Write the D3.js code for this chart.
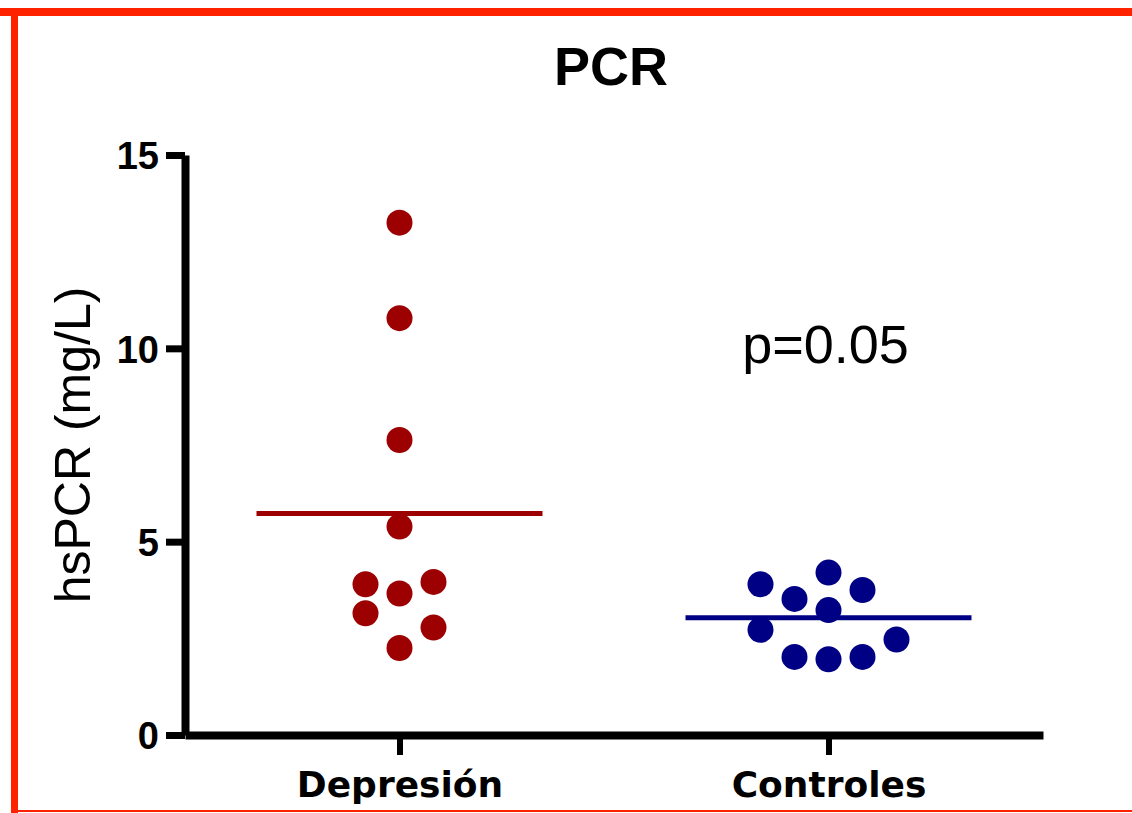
<!DOCTYPE html>
<html>
<head>
<meta charset="utf-8">
<script src="https://cdn.jsdelivr.net/npm/d3@7"></script>
<style>
  body { margin: 0; background: #fff; }
</style>
</head>
<body>
<svg id="chart"></svg>
<script>
var categories = ["Depresión", "Controles"]
var depresionValues = [13.25, 10.78, 7.63, 5.39, 3.90, 3.66, 3.96, 3.15, 2.78, 2.25]
var depresionSlots = [0, 0, 0, 0, -1, 0, 1, -1, 1, 0]
var controlesValues = [3.90, 3.52, 4.20, 3.75, 3.23, 2.72, 2.47, 2.02, 1.96, 2.02]
var controlesSlots = [-2, -1, 0, 1, 0, -2, 2, -1, 0, 1]
var groupMeans = [5.73, 3.03]
var groupColors = ["#9c0000", "#000085"]
var yTicks = [0, 5, 10, 15]
var titleText = "PCR"
var yLabel = "hsPCR (mg/L)"
var pText = "p=0.05"

document.addEventListener("DOMContentLoaded", function() {
    var svgWidth = 1132, svgHeight = 813;
    var svg = d3.select('#chart')
        .attr("width", svgWidth)
        .attr("height", svgHeight);

    // red frame (top, left, thin bottom)
    svg.append("rect").attr("x", 0).attr("y", 8).attr("width", svgWidth).attr("height", 8).attr("fill", "#ff2200");
    svg.append("rect").attr("x", 11).attr("y", 8).attr("width", 7).attr("height", svgHeight).attr("fill", "#ff2200");
    svg.append("rect").attr("x", 11).attr("y", 810).attr("width", svgWidth).attr("height", 2).attr("fill", "#ff2200");

    var y = d3.scaleLinear().domain([0, 15]).range([735, 155]);
    var x = d3.scalePoint().domain(categories).range([185, 1043]).padding(0.5);

    // Y axis
    var yAxis = svg.append("g")
        .attr("transform", "translate(185,0)")
        .call(d3.axisLeft(y).tickValues(yTicks).tickSize(19).tickSizeOuter(0).tickPadding(7));
    yAxis.select(".domain").attr("stroke-width", 8).attr("stroke", "#000");
    yAxis.selectAll(".tick line").attr("stroke-width", 7).attr("stroke", "#000");
    yAxis.selectAll(".tick text")
        .attr("fill", "#000")
        .attr("font-family", "'Liberation Sans', Arial, sans-serif")
        .attr("font-weight", "bold")
        .attr("font-size", "38px")
        .attr("dy", "0.36em");

    // X axis
    var xAxis = svg.append("g")
        .attr("transform", "translate(0,735)")
        .call(d3.axisBottom(x).tickSize(20).tickSizeOuter(0).tickPadding(10));
    xAxis.select(".domain").attr("stroke-width", 8).attr("stroke", "#000");
    xAxis.selectAll(".tick line").attr("stroke-width", 6).attr("stroke", "#000");
    xAxis.selectAll(".tick text")
        .attr("fill", "#000")
        .attr("font-family", "'DejaVu Sans', sans-serif")
        .attr("font-weight", "bold")
        .attr("font-size", "36px")
        .attr("dy", "0.9em");

    // Title
    svg.append("text")
        .attr("x", 611).attr("y", 85)
        .attr("text-anchor", "middle")
        .attr("font-family", "'Liberation Sans', Arial, sans-serif")
        .attr("font-weight", "bold")
        .attr("font-size", "54px")
        .text(titleText);

    // Y label
    svg.append("text")
        .attr("transform", "translate(90," + (y(0) + y(15)) / 2 + ") rotate(-90)")
        .attr("text-anchor", "middle")
        .attr("font-family", "'Liberation Sans', Arial, sans-serif")
        .attr("font-size", "50px")
        .text(yLabel);

    // p value
    svg.append("text")
        .attr("x", x("Controles") - 3).attr("y", y(9.62))
        .attr("text-anchor", "middle")
        .attr("font-family", "'Liberation Sans', Arial, sans-serif")
        .attr("font-size", "54px")
        .text(pText);

    var slotWidth = 34, meanHalf = 143, dotRadius = 13;
    var groups = [
        { name: categories[0], values: depresionValues, slots: depresionSlots },
        { name: categories[1], values: controlesValues, slots: controlesSlots }
    ];

    groups.forEach(function(grp, gi) {
        svg.append("g").selectAll("circle")
            .data(grp.values)
            .enter().append("circle")
            .attr("cx", function(d, i) { return x(grp.name) + grp.slots[i] * slotWidth; })
            .attr("cy", function(d) { return y(d); })
            .attr("r", dotRadius)
            .attr("fill", groupColors[gi]);

        svg.append("line")
            .attr("x1", x(grp.name) - meanHalf)
            .attr("x2", x(grp.name) + meanHalf)
            .attr("y1", y(groupMeans[gi]))
            .attr("y2", y(groupMeans[gi]))
            .attr("stroke", groupColors[gi])
            .attr("stroke-width", 5);
    });
});
</script>
</body>
</html>
